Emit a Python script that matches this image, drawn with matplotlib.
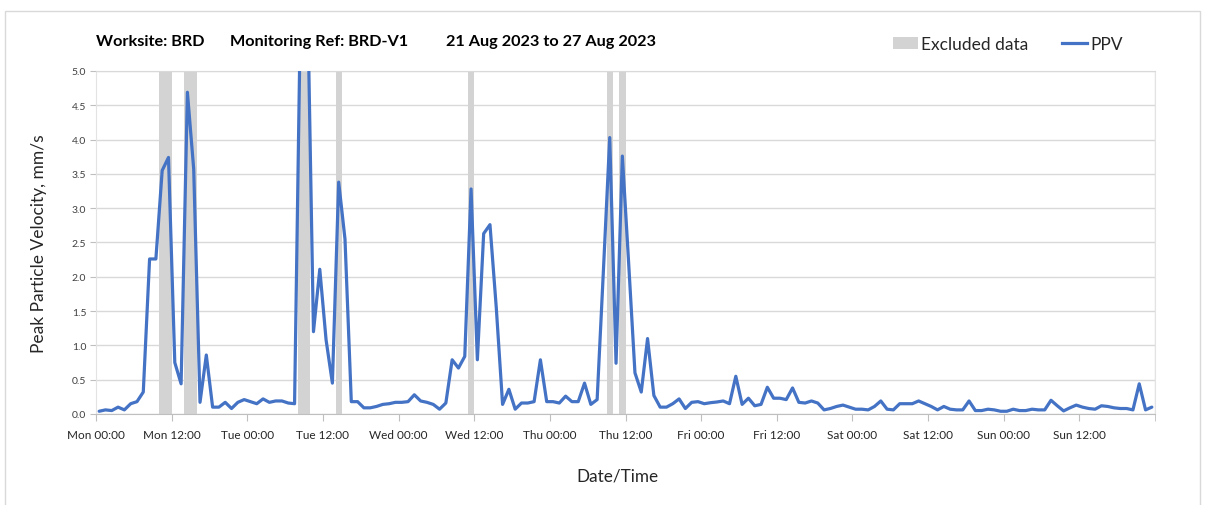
import numpy as np
import matplotlib
matplotlib.use("Agg")
import matplotlib.pyplot as plt
from matplotlib.patches import Patch, Rectangle
from matplotlib.lines import Line2D

plt.rcParams['font.family'] = ['Lato', 'DejaVu Sans']

# ---- data ----
hours = np.arange(168) + 0.5   # hourly readings, hours since Mon 21 Aug 2023 00:00
ppv = [
    0.04, 0.06, 0.05, 0.10, 0.06, 0.15, 0.18, 0.32, 2.26, 2.26, 3.55, 3.74,
    0.75, 0.44, 4.69, 3.57, 0.17, 0.86, 0.10, 0.10, 0.17, 0.08, 0.17, 0.21,
    0.18, 0.15, 0.22, 0.17, 0.19, 0.19, 0.16, 0.15, 6.30, 6.40, 1.20, 2.11,
    1.08, 0.45, 3.38, 2.55, 0.18, 0.18, 0.09, 0.09, 0.11, 0.14, 0.15, 0.17,
    0.17, 0.18, 0.28, 0.19, 0.17, 0.14, 0.07, 0.16, 0.79, 0.67, 0.84, 3.28,
    0.79, 2.63, 2.76, 1.55, 0.14, 0.36, 0.07, 0.16, 0.16, 0.18, 0.79, 0.18,
    0.18, 0.16, 0.26, 0.18, 0.18, 0.45, 0.14, 0.21, 2.10, 4.03, 0.74, 3.76,
    2.20, 0.60, 0.32, 1.10, 0.27, 0.10, 0.10, 0.15, 0.22, 0.08, 0.17, 0.18,
    0.15, 0.165, 0.175, 0.19, 0.15, 0.55, 0.14, 0.23, 0.12, 0.14, 0.39, 0.23,
    0.23, 0.21, 0.38, 0.17, 0.16, 0.19, 0.16, 0.06, 0.08, 0.11, 0.13, 0.10,
    0.07, 0.07, 0.06, 0.11, 0.19, 0.07, 0.06, 0.15, 0.15, 0.15, 0.19, 0.15,
    0.11, 0.06, 0.11, 0.07, 0.06, 0.06, 0.19, 0.05, 0.05, 0.07, 0.06, 0.04,
    0.04, 0.07, 0.05, 0.05, 0.07, 0.06, 0.06, 0.20, 0.12, 0.045, 0.09, 0.13,
    0.10, 0.08, 0.07, 0.12, 0.11, 0.09, 0.08, 0.08, 0.06, 0.44, 0.06, 0.10,
]
excluded_start = [10, 14, 32, 38, 59, 81, 83]
excluded_end = [12, 16, 34, 39, 60, 82, 84]
tick_labels = ["Mon 00:00", "Mon 12:00", "Tue 00:00", "Tue 12:00", "Wed 00:00",
               "Wed 12:00", "Thu 00:00", "Thu 12:00", "Fri 00:00", "Fri 12:00",
               "Sat 00:00", "Sat 12:00", "Sun 00:00", "Sun 12:00"]
y_ticks = [0.0, 0.5, 1.0, 1.5, 2.0, 2.5, 3.0, 3.5, 4.0, 4.5, 5.0]

title_parts = ["Worksite: BRD", "Monitoring Ref: BRD-V1", "21 Aug 2023 to 27 Aug 2023"]

# ---- styles ----
W, H = 1212, 506
BLUE = "#4472C4"
BAND = "#D3D3D3"
GRID = "#D9D9D9"

fig = plt.figure(figsize=(W / 100, H / 100), dpi=100)
fig.patches.append(Rectangle((5 / W, -0.01), (1200 - 5) / W, 1 - 12 / H + 0.01,
                             transform=fig.transFigure, fill=False,
                             edgecolor="#D9D9D9", linewidth=1.0))

ax = fig.add_axes([96 / W, 1 - 415 / H, (1155 - 96) / W, (415 - 72) / H])

for s, e in zip(excluded_start, excluded_end):
    ax.axvspan(s, e, color=BAND, zorder=1, linewidth=0)

ax.plot(hours, ppv, color=BLUE, linewidth=2.3, zorder=3,
        solid_joinstyle='round', solid_capstyle='round')

ax.set_xlim(0, 168)
ax.set_ylim(0, 5.0)
xt = [12 * k for k in range(len(tick_labels))]
ax.set_xticks(xt)
ax.set_xticklabels(tick_labels, fontsize=8.5, color="#262626")
ax.set_xticks([12 * k for k in range(len(tick_labels) + 1)], minor=True)
ax.set_yticks(y_ticks)
ax.set_yticklabels([f"{v:.1f}" for v in y_ticks], fontsize=7.5, color="#404040")

ax.grid(True, which='minor', axis='x', color="#E3E3E3", linewidth=1.0, zorder=0)
ax.grid(True, which='major', axis='y', color=GRID, linewidth=1.0, zorder=0)
ax.set_axisbelow(True)
ax.spines["top"].set_color(GRID)
ax.spines["right"].set_color("#E3E3E3")
ax.spines["left"].set_color("#E3E3E3")
ax.spines["bottom"].set_color("#BFBFBF")
ax.tick_params(axis='x', which='both', length=5, color="#BFBFBF", pad=6)
ax.tick_params(axis='y', length=4, color="#BFBFBF", pad=3)

ax.set_ylabel("Peak Particle Velocity, mm/s", fontsize=12.5, color="#262626")
ax.yaxis.set_label_coords(-0.046, 0.5)
ax.set_xlabel("Date/Time", fontsize=12.3, color="#262626")
ax.xaxis.set_label_coords(0.492, -0.155)

title_x = [96, 230, 446]
for t, x in zip(title_parts, title_x):
    fig.text(x / W, 1 - 42 / H, t, fontsize=11.7, fontweight='bold',
             color="#000000", ha='left', va='center')

handles = [Patch(facecolor=BAND, edgecolor='none', label="Excluded data"),
           Line2D([0], [0], color=BLUE, linewidth=2.3, label="PPV")]
fig.legend(handles=handles, loc='center left', bbox_to_anchor=(893 / W, 1 - 45 / H),
           ncol=2, frameon=False, fontsize=12.5, handlelength=1.45, handleheight=0.7,
           handletextpad=0.17, columnspacing=1.95, borderpad=0, borderaxespad=0,
           labelcolor="#262626")

fig.savefig("out.png", dpi=100)
